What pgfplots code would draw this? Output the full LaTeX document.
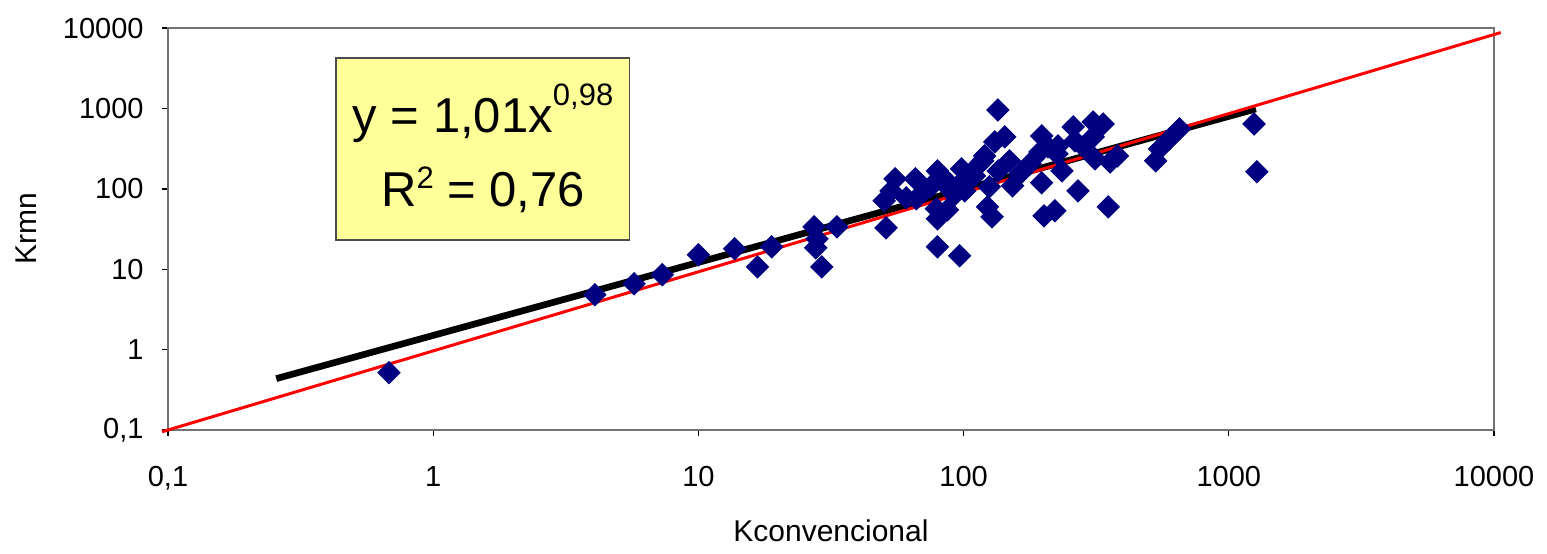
\documentclass[border=0pt]{standalone}
\usepackage{fontspec}
\setmainfont{Liberation Sans}
\usepackage{pgfplots}
\pgfplotsset{compat=1.18}
\definecolor{navy}{HTML}{000080}
\definecolor{boxyellow}{HTML}{FFFF99}
\begin{document}
\begin{tikzpicture}
\begin{axis}[
  xmode=log, ymode=log,
  scale only axis, width=397.8pt, height=120.6pt,
  xmin=0.1, xmax=10000, ymin=0.1, ymax=10000,
  xtick={0.1,1,10,100,1000,10000},
  xticklabels={{0,1},1,10,100,1000,10000},
  ytick={0.1,1,10,100,1000,10000},
  yticklabels={{0,1},1,10,100,1000,10000},
  xminorticks=false, yminorticks=false,
  xtick pos=lower, ytick pos=left,
  tick align=outside, major tick length=1.8pt,
  tick style={black, line width=0.4pt},
  axis line style={draw=black!55, line width=0.5pt},
  clip=false,
  ticklabel style={font=\fontsize{8.7}{10}\selectfont},
  xticklabel style={yshift=-5.5pt},
  yticklabel style={xshift=-2pt},
  xlabel={Kconvencional},
  ylabel={Krmn},
  label style={font=\fontsize{9}{10}\selectfont},
  xlabel style={at={(axis description cs:0.5,-0.251)}, anchor=center},
  ylabel style={at={(axis description cs:-0.107,0.5)}, anchor=center, rotate=0},
]
\path (rel axis cs:-0.1267,-0.2886) rectangle (rel axis cs:1.04,1.0697);

\addplot[only marks, mark=square*, mark size=2.3pt, color=navy,
  mark options={rotate=45, fill=navy, draw=navy}] table {
x y
0.681 0.518
4.07 4.82
5.72 6.6
7.31 8.55
10 15.1
13.7 18.0
16.7 10.7
18.9 19.0
27.3 33.7
28.0 23.9
27.7 18.5
29.2 10.7
33.3 33.7
50.2 71
53.3 94.4
55.2 133
65.8 133
60.8 77.3
51.0 32.8
79.7 167
75.0 106
86.3 126
79.7 42.4
86.9 54.8
79.0 56.5
79.7 19.0
96.6 14.7
98.3 177
134.6 957
143 443
131 384
149 223
120 257
113 193
123 59.7
128 44.9
153 109
125 106
135 167
118 223
110 145
197 455
194 288
197 119
201 46.2
221 53.4
259 589
263 395
308 679
336 641
308 443
208 333
227 342
313 236
357 216
380 257
235 167
270 94.4
351 59.7
283 333
225 272
530 223
548 314
598 418
652 556
1245 641
1276 163
88.5 100
96.6 115
105 133
92.4 84.2
101 94.4
71 94
66.4 75.2
163 153
178 205
};

\addplot[black, line width=2pt] coordinates {(0.256,0.436) (1265,986)};
\addplot[red, line width=0.9pt] coordinates {(0.095,0.0952) (10600,8790)};

\draw[fill=boxyellow, draw=black!70, line width=0.5pt]
  (rel axis cs:0.1267,0.473) rectangle (rel axis cs:0.348,0.925);
\node[anchor=base, inner sep=0pt, font=\fontsize{14.7}{16}\selectfont]
  at (rel axis cs:0.2376,0.741)
  {y = 1,01x\raisebox{8pt}{\fontsize{9.3}{10}\selectfont 0,98}};
\node[anchor=base, inner sep=0pt, font=\fontsize{14.7}{16}\selectfont]
  at (rel axis cs:0.2376,0.555)
  {R\raisebox{5.5pt}{\fontsize{9.3}{10}\selectfont 2} = 0,76};
\end{axis}
\end{tikzpicture}
\end{document}
